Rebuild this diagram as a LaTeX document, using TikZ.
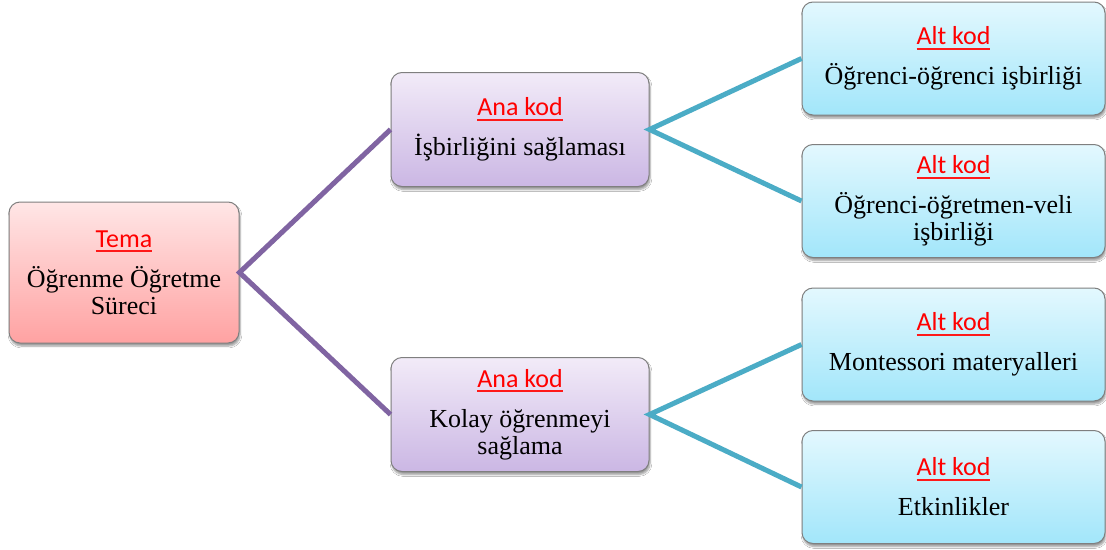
\documentclass[tikz,border=0pt]{standalone}
\usepackage{fontspec}
\setmainfont{Liberation Serif}
\newfontfamily\labfont{Carlito}
\usetikzlibrary{shadows.blur}
\definecolor{boxgray}{HTML}{7F7F7F}
\definecolor{temaTop}{HTML}{FFE6E6}
\definecolor{temaBot}{HTML}{FFA2A2}
\definecolor{anaTop}{HTML}{F2EBF8}
\definecolor{anaBot}{HTML}{CBB7E4}
\definecolor{altTop}{HTML}{E3F8FE}
\definecolor{altBot}{HTML}{A2E6FA}
\definecolor{purpleline}{HTML}{8064A2}
\definecolor{tealline}{HTML}{4BACC6}
\newcommand\redul[1]{\setbox0\hbox{#1}\rlap{\color{red!90!white}\rule[-5pt]{\wd0}{2pt}}\box0}
\newcommand\lab[1]{{\labfont\color{red}\redul{#1}}\\[13pt]}
\tikzset{
  box/.style={draw=boxgray, line width=1pt, rounded corners=11pt, align=center,
    inner sep=0pt, font=\fontsize{26}{27}\selectfont,
    blur shadow={shadow xshift=1pt, shadow yshift=-3pt, shadow blur steps=6, shadow opacity=40}},
  temabox/.style={box, top color=temaTop, bottom color=temaBot, minimum width=230pt, minimum height=141pt},
  anabox/.style={box, top color=anaTop, bottom color=anaBot, minimum width=258pt, minimum height=114pt},
  altbox/.style={box, top color=altTop, bottom color=altBot, minimum width=303pt, minimum height=113pt},
  pline/.style={draw=purpleline, line width=5pt},
  tline/.style={draw=tealline, line width=5pt}
}
\begin{document}
\begin{tikzpicture}[x=1pt,y=-1pt]
\fill[white] (0,0) rectangle (1106,549);
\useasboundingbox (0,0) rectangle (1106,549);
\node[temabox] (tema) at (124,272.5) {\lab{Tema}Öğrenme Öğretme\\Süreci};
\node[anabox] (ana1) at (520,129.5) {\lab{Ana kod}İşbirliğini sağlaması};
\node[anabox] (ana2) at (520,414.5) {\lab{Ana kod}Kolay öğrenmeyi\\sağlama};
\node[altbox] (alt1) at (953.5,58.5) {\lab{Alt kod}Öğrenci-öğrenci işbirliği};
\node[altbox] (alt2) at (953.5,201) {\lab{Alt kod}Öğrenci-öğretmen-veli\\işbirliği};
\node[altbox] (alt3) at (953.5,344.5) {\lab{Alt kod}Montessori materyalleri};
\node[altbox] (alt4) at (953.5,487) {\lab{Alt kod}Etkinlikler};
\draw[pline] (ana1.west) -- (tema.east) -- (ana2.west);
\draw[tline] (alt1.west) -- (ana1.east) -- (alt2.west);
\draw[tline] (alt3.west) -- (ana2.east) -- (alt4.west);
\end{tikzpicture}
\end{document}
